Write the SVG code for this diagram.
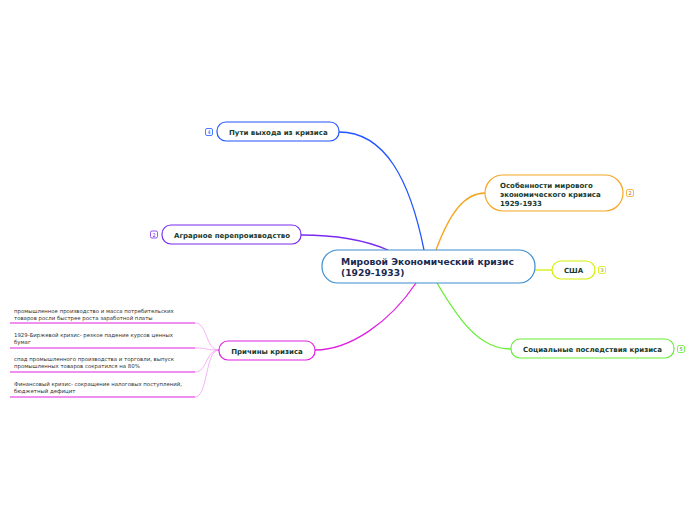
<svg xmlns="http://www.w3.org/2000/svg" width="696" height="520" viewBox="0 0 696 520">
<style>
.n{fill:#fff;stroke-width:1.2}
.t{font-family:"DejaVu Sans",Verdana,sans-serif;font-weight:bold;font-size:7px;fill:#173a2e}
.leaf{font-family:"DejaVu Sans",Verdana,sans-serif;font-size:5.4px;fill:#333}
.b{fill:#fff;stroke-width:0.8}
.bt{font-family:"DejaVu Sans",sans-serif;font-size:5px;text-anchor:middle}
.c{fill:none;stroke-width:1.3}
</style>
<rect width="696" height="520" fill="#fff"/>
<g id="connectors">
<path class="c" stroke="#2255ff" d="M424,250 C410,180 385,132 339,132"/>
<path class="c" stroke="#7a2bf0" d="M388,250 C360,238 330,235 301,235"/>
<path class="c" stroke="#f5a623" d="M436,250 C450,212 465,193 485,193"/>
<path class="c" stroke="#d4f000" d="M535,270 L552,270"/>
<path class="c" stroke="#66ee33" d="M437,283 C460,322 480,349 511,349"/>
<path class="c" stroke="#e020e0" d="M416,283 C390,322 350,350 315,350"/>
<g stroke="#f080f0" stroke-width="0.6" fill="none">
<path d="M219,350 C205,350 208,323 195,323"/>
<path d="M219,350 C205,350 208,348 195,348"/>
<path d="M219,350 C205,350 208,372 195,372"/>
<path d="M219,350 C205,350 208,397 195,397"/>
</g>
</g>
<g id="central">
<rect class="n" x="322" y="250" width="213" height="33" rx="16" stroke="#3a8cd0"/>
<text x="341" y="265" font-family="DejaVu Sans,Verdana,sans-serif" font-weight="bold" font-size="9.2px" fill="#1a2a50">Мировой Экономический кризис</text>
<text x="341" y="276" font-family="DejaVu Sans,Verdana,sans-serif" font-weight="bold" font-size="9.2px" fill="#1a2a50">(1929-1933)</text>
</g>
<g id="node-osobennosti">
<rect class="n" x="485" y="175" width="138" height="36" rx="18" stroke="#f5a623"/>
<text class="t" x="500" y="188">Особенности мирового</text>
<text class="t" x="500" y="197">экономического кризиса</text>
<text class="t" x="500" y="206">1929-1933</text>
<rect class="b" x="626.5" y="189.5" width="7" height="7" rx="1.5" stroke="#f5a623"/>
<text class="bt" x="630" y="195" fill="#b07010">2</text>
</g>
<g id="node-puti">
<rect class="n" x="217" y="122" width="122" height="19" rx="9" stroke="#2255ff"/>
<text class="t" x="229" y="134.5">Пути выхода из кризиса</text>
<rect class="b" x="205.5" y="128.5" width="7" height="7" rx="1.5" stroke="#2255ff"/>
<text class="bt" x="209" y="134" fill="#2255ff">4</text>
</g>
<g id="node-agrarnoe">
<rect class="n" x="162" y="225" width="139" height="19" rx="9" stroke="#7a2bf0"/>
<text class="t" x="174" y="237.5">Аграрное перепроизводство</text>
<rect class="b" x="150.5" y="231" width="7" height="7" rx="1.5" stroke="#7a2bf0"/>
<text class="bt" x="154" y="236.5" fill="#7a2bf0">2</text>
</g>
<g id="node-usa">
<rect class="n" x="552" y="261" width="43" height="18" rx="9" stroke="#d4f000"/>
<text class="t" x="573.5" y="273" text-anchor="middle">США</text>
<rect class="b" x="598.5" y="266.5" width="7" height="7" rx="1.5" stroke="#d4f000"/>
<text class="bt" x="602" y="272" fill="#8a9a00">3</text>
</g>
<g id="node-social">
<rect class="n" x="511" y="339" width="163" height="19" rx="9" stroke="#66ee33"/>
<text class="t" x="523" y="351.5">Социальные последствия кризиса</text>
<rect class="b" x="677.5" y="345.5" width="7" height="7" rx="1.5" stroke="#66ee33"/>
<text class="bt" x="681" y="351" fill="#3a9a10">5</text>
</g>
<g id="node-prichiny">
<rect class="n" x="219" y="341" width="96" height="19" rx="9" stroke="#e020e0"/>
<text class="t" x="267" y="353.5" text-anchor="middle">Причины кризиса</text>
</g>
<g id="leaf-1">
<text class="leaf" x="14" y="313">промышленное производство и масса потребительских</text>
<text class="leaf" x="14" y="320">товаров росли быстрее роста заработной платы</text>
<line x1="10" y1="323" x2="195" y2="323" stroke="#e020e0" stroke-width="1.2"/>
</g>
<g id="leaf-2">
<text class="leaf" x="14" y="337">1929-Биржевой кризис- резкое падение курсов ценных</text>
<text class="leaf" x="14" y="344">бумаг</text>
<line x1="10" y1="348" x2="195" y2="348" stroke="#e020e0" stroke-width="1.2"/>
</g>
<g id="leaf-3">
<text class="leaf" x="14" y="361">спад промышленного производства и торговли, выпуск</text>
<text class="leaf" x="14" y="368">промышленных товаров сократился на 80%</text>
<line x1="10" y1="372" x2="195" y2="372" stroke="#e020e0" stroke-width="1.2"/>
</g>
<g id="leaf-4">
<text class="leaf" x="14" y="386">Финансовый кризис- сокращение налоговых поступлений,</text>
<text class="leaf" x="14" y="393">бюджетный дефицит</text>
<line x1="10" y1="397" x2="195" y2="397" stroke="#e020e0" stroke-width="1.2"/>
</g>
</svg>
